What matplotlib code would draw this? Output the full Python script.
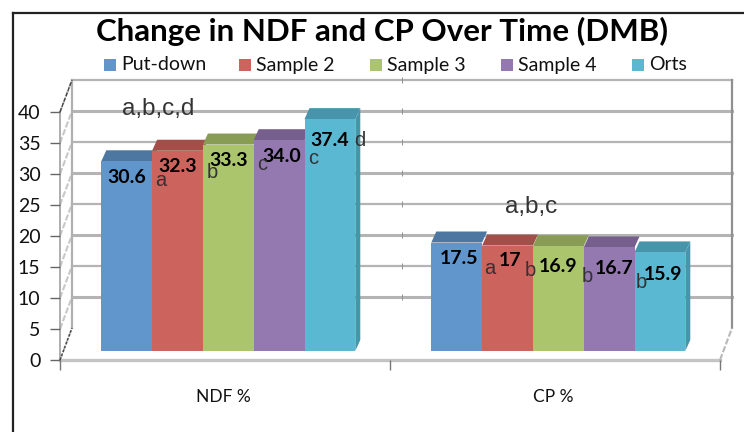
import matplotlib
matplotlib.use("Agg")
import matplotlib.pyplot as plt
from matplotlib.lines import Line2D
from matplotlib.patches import Rectangle

categories = ["NDF %", "CP %"]
series_names = ["Put-down", "Sample 2", "Sample 3", "Sample 4", "Orts"]
ndf_values = [30.6, 32.3, 33.3, 34.0, 37.4]
cp_values = [17.5, 17.0, 16.9, 16.7, 15.9]
ndf_labels = ["30.6", "32.3", "33.3", "34.0", "37.4"]
cp_labels = ["17.5", "17", "16.9", "16.7", "15.9"]
y_ticks = [0, 5, 10, 15, 20, 25, 30, 35, 40]

front_colors = ["#6096CC", "#CC635C", "#ABC56D", "#9478B0", "#5AB8D2"]
roof_colors = ["#4D77A0", "#A24F4A", "#889C56", "#765F8D", "#4895AB"]

W, H = 744, 432
PX_X = 330.0   # pixels per category
PX_Y = 6.2     # pixels per unit
DX = 12 / PX_X    # wall depth
DY = 32 / PX_Y
BAR_W = 50.8 / PX_X
BASE = 9 / PX_Y   # bars stand a bit behind the front edge
ROOF_X = 5 / PX_X
ROOF_Y = 11 / PX_Y

fig = plt.figure(figsize=(W / 100, H / 100), dpi=100)
ax = fig.add_axes([60 / W, (H - 360) / H, 660 / W, 281 / H])
ax.set_xlim(-0.5, 1.5)
ax.set_ylim(0, 281 / PX_Y)
ax.patch.set_visible(False)
for s in ax.spines.values():
    s.set_visible(False)

# back wall and side wall gridlines
for i, t in enumerate(y_ticks):
    if t > 0:
        ax.plot([-0.5 + DX, 1.5 + DX], [t + DY, t + DY], color="#B4B4B4",
                lw=2.2 if i % 2 else 1.6, clip_on=False, zorder=1)
        # little category marks on the back wall
        ax.plot([0.5 + DX], [t + DY], marker="|", ms=5, mew=0.7, color="#909090",
                clip_on=False, zorder=1)
    ax.plot([-0.5, -0.5 + DX], [t, t + DY], color="#C8C8C8", lw=1.5,
            ls=(0, (3, 1)), clip_on=False, zorder=1)
ax.plot([-0.5 + DX, -0.5 + DX], [DY, 40 + DY], color="#B0B0B0", lw=1.6, clip_on=False, zorder=1)
ax.plot([1.5 + DX, 1.5 + DX], [DY, 40 + DY], color="#909090", lw=1.6, clip_on=False, zorder=1)
ax.plot([-0.5, 1.5], [0, 0], color="#C4C4C4", lw=2.4, clip_on=False, zorder=1)
ax.plot([1.5, 1.5 + DX], [0, DY], color="#B8B8B8", lw=1.5, ls=(0, (3, 1)), clip_on=False, zorder=1)
ax.plot([-0.5, -0.5], [0, 40], color="#A0A0A0", lw=1.2, clip_on=False, zorder=1)
ax.plot([-0.5, -0.5 + DX], [40, 40 + DY], color="#444444", lw=1.0, ls=(0, (3, 1)), clip_on=False, zorder=2)
ax.plot([-0.5, -0.5 + DX], [0, DY], color="#444444", lw=1.0, ls=(0, (2, 1)), clip_on=False, zorder=2)

# bars
for c, vals in enumerate([ndf_values, cp_values]):
    left = c + 0.01 - 2.5 * BAR_W
    for i, v in enumerate(vals):
        x0 = left + i * BAR_W
        top = BASE + v
        # roof first, so the next bar covers its overhang
        ax.fill([x0, x0 + ROOF_X, x0 + BAR_W + ROOF_X, x0 + BAR_W],
                [top, top + ROOF_Y, top + ROOF_Y, top],
                color=roof_colors[i], lw=0, zorder=3 + i * 0.1)
        ax.bar(x0, v, width=BAR_W, bottom=BASE, align="edge",
               color=front_colors[i], lw=0, zorder=3 + i * 0.1)
    # side of last bar
    xr = left + 5 * BAR_W
    ax.fill([xr, xr + ROOF_X, xr + ROOF_X, xr],
            [BASE, BASE + ROOF_Y, top + ROOF_Y, top],
            color="#4895AB", lw=0, zorder=3.5)

ax.set_yticks(y_ticks)
ax.set_yticklabels([str(t) for t in y_ticks], fontname="Lato", fontsize=14, color="#111111")
ax.tick_params(axis="y", length=7, width=1, color="#666666", pad=7)
ax.set_xticks([-0.5, 0.5, 1.5])
ax.set_xticklabels(["", "", ""])
ax.tick_params(axis="x", length=7, width=1, color="#777777")
for c, name in enumerate(categories):
    ax.text(c - 0.005, -37 / PX_Y, name, ha="center", va="center", fontname="Lato",
            fontsize=12.5, color="#111111")


def label(px, py, s, **kw):
    fig.text(px / W, 1 - py / H, s, ha="center", va="center", **kw)


value_pos = [(127, 178), (178, 166), (229, 160), (282, 156), (330, 140),
             (459, 259), (510, 261), (558, 267), (614, 269), (663, 274)]
for (px, py), s in zip(value_pos, ndf_labels + cp_labels):
    label(px, py, s, fontname="Lato", fontweight="bold", fontsize=14, color="black", zorder=6)

letter_pos = [(161, 181, "a"), (212, 172, "b"), (262, 164, "c"), (313, 158, "c"), (360, 140, "d"),
              (490, 268, "a"), (530, 271, "b"), (587, 277, "b"), (641, 282, "b")]
for px, py, s in letter_pos:
    label(px, py, s, fontname="Liberation Sans", fontsize=14.5, color="#333333", zorder=6)
label(158, 109, "a,b,c,d", fontname="Liberation Sans", fontsize=17.5, color="#333333", zorder=6)
label(531, 207, "a,b,c", fontname="Liberation Sans", fontsize=17.5, color="#333333", zorder=6)

label(382, 31, "Change in NDF and CP Over Time (DMB)", fontname="Lato", fontweight="bold",
      fontsize=22.5, color="black")

# legend, laid out by hand because the columns are evenly spaced
legend_x = [104, 239, 370, 501, 632]
for px, name, col in zip(legend_x, series_names, front_colors):
    fig.add_artist(Rectangle((px / W, 1 - 71 / H), 12 / W, 12 / H, color=col, lw=0,
                             transform=fig.transFigure))
    fig.text((px + 17) / W, 1 - 65 / H, name, ha="left", va="center", fontname="Lato",
             fontsize=14, color="#111111")

# outer border of the pasted chart
fig.add_artist(Line2D([12.5 / W, 12.5 / W], [0, 1 - 12.5 / H], color="#222222", lw=1.6))
fig.add_artist(Line2D([12.5 / W, 1], [1 - 12.5 / H, 1 - 12.5 / H], color="#222222", lw=1.6))

plt.savefig("out.png", dpi=100)
